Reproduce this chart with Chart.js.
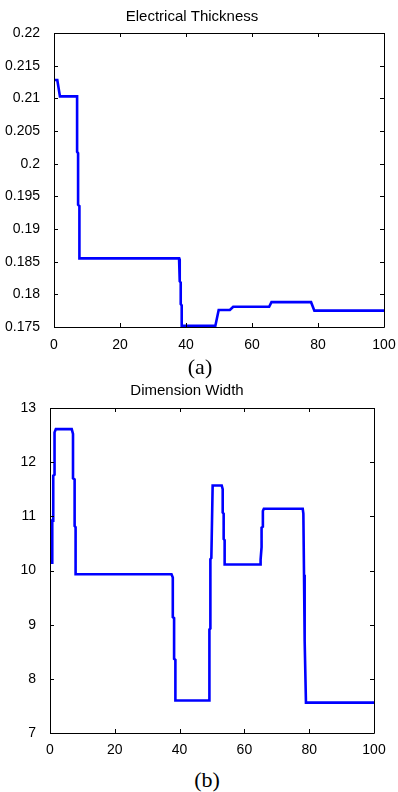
<!DOCTYPE html>
<html>
<head>
<meta charset="utf-8">
<script src="https://cdn.jsdelivr.net/npm/chart.js@4"></script>
<style>
  html, body { margin: 0; padding: 0; background: #fff; }
  body { width: 398px; height: 792px; position: relative; overflow: hidden; }
  canvas { position: absolute; left: 0; }
  #chartA { top: 0; }
  #chartB { top: 380px; }
  .caption {
    position: absolute;
    font-family: "Liberation Serif", "Times New Roman", serif;
    font-size: 22px;
    line-height: 22px;
    transform: translate(-50%, -50%);
  }
</style>
</head>
<body>
<canvas id="chartA" width="398" height="360"></canvas>
<div class="caption" style="left:200px; top:367px;">(a)</div>
<canvas id="chartB" width="398" height="380"></canvas>
<div class="caption" style="left:207px; top:780px;">(b)</div>

<script>
// Optimisation history: electrical thickness (a) and dimension width (b)
const xTicks = [0, 20, 40, 60, 80, 100];

const thicknessTicks = [0.175, 0.18, 0.185, 0.19, 0.195, 0.2, 0.205, 0.21, 0.215, 0.22];
const thicknessX = [0, 1.0, 1.8, 7.0, 7.0, 7.3, 7.3, 7.7, 7.7, 37.9, 38.1, 38.1, 38.4, 38.4, 38.7, 38.7,
  48.9, 49.9, 53.3, 54.3, 65.2, 65.9, 77.9, 78.9, 100];
const thicknessY = [0.2128, 0.2128, 0.2103, 0.2103, 0.2018, 0.2016, 0.1937, 0.1935, 0.1855, 0.1855, 0.1852,
  0.1820, 0.1818, 0.1785, 0.1783, 0.1752, 0.1752, 0.1776, 0.1776, 0.1781, 0.1781, 0.1788, 0.1788, 0.1775, 0.1775];

const widthTicks = [7, 8, 9, 10, 11, 12, 13];
const widthX = [0.7, 0.7, 1.0, 1.0, 1.4, 1.4, 1.8, 6.7, 7.1, 7.1, 7.6, 7.6, 7.9, 7.9, 37.5, 37.9, 37.9, 38.3,
  38.3, 38.7, 38.7, 49.1, 49.2, 49.5, 49.5, 49.8, 50.2, 53.0, 53.3, 53.3, 53.6, 53.6, 53.9, 53.9, 64.9, 65.0,
  65.3, 65.3, 65.7, 65.7, 66.0, 78.0, 78.2, 78.4, 78.4, 78.7, 78.7, 79.0, 100];
const widthY = [10.12, 10.92, 10.92, 11.75, 11.77, 12.55, 12.61, 12.61, 12.52, 11.70, 11.68, 10.82, 10.80,
  9.93, 9.93, 9.87, 9.14, 9.12, 8.37, 8.35, 7.60, 7.60, 8.91, 8.93, 10.21, 10.23, 11.57, 11.57, 11.50, 11.07,
  11.05, 10.58, 10.56, 10.11, 10.11, 10.20, 10.43, 10.79, 10.81, 11.10, 11.14, 11.14, 11.05, 9.92, 9.90,
  8.73, 8.70, 7.56, 7.56];

Chart.defaults.color = '#000';
Chart.defaults.font.family = '"Liberation Sans", Arial, sans-serif';

// MATLAB-style box with ticks pointing into the plot on all four sides
const boxPlugin = {
  id: 'box',
  afterDatasetsDraw(chart) {
    const { ctx, chartArea: a, scales } = chart;
    const len = 4;
    ctx.save();
    ctx.strokeStyle = '#000';
    ctx.lineWidth = 1;
    ctx.beginPath();
    ctx.rect(Math.round(a.left) + 0.5, Math.round(a.top) + 0.5,
      Math.round(a.right - a.left), Math.round(a.bottom - a.top));
    scales.x.ticks.forEach(t => {
      const px = Math.round(scales.x.getPixelForValue(t.value)) + 0.5;
      ctx.moveTo(px, a.bottom); ctx.lineTo(px, a.bottom - len);
      ctx.moveTo(px, a.top); ctx.lineTo(px, a.top + len);
    });
    scales.y.ticks.forEach(t => {
      const py = Math.round(scales.y.getPixelForValue(t.value)) + 0.5;
      ctx.moveTo(a.left, py); ctx.lineTo(a.left + len, py);
      ctx.moveTo(a.right, py); ctx.lineTo(a.right - len, py);
    });
    ctx.stroke();
    ctx.restore();
  }
};

function makeChart(id, title, xs, ys, yTicks, box) {
  const points = xs.map((x, i) => ({ x: x, y: ys[i] }));
  return new Chart(document.getElementById(id), {
    type: 'line',
    data: {
      datasets: [{
        data: points,
        borderColor: '#0000ff',
        borderWidth: 2.6,
        pointRadius: 0,
        tension: 0,
        fill: false
      }]
    },
    options: {
      responsive: false,
      animation: false,
      layout: { padding: { left: 0, right: box.right, top: 0, bottom: 0 } },
      plugins: {
        legend: { display: false },
        tooltip: { enabled: false },
        title: {
          display: true,
          text: title,
          color: '#000',
          font: { size: 15, weight: 'normal', lineHeight: 1.2 },
          padding: box.titlePad
        }
      },
      scales: {
        x: {
          type: 'linear',
          min: 0, max: 100,
          grid: { display: false },
          border: { display: false },
          afterBuildTicks: s => { s.ticks = xTicks.map(v => ({ value: v })); },
          afterFit: s => { s.height = box.xHeight; s.paddingLeft = 0; s.paddingRight = 0; },
          ticks: { font: { size: 14 }, padding: box.xPad, maxRotation: 0, callback: v => String(v) }
        },
        y: {
          type: 'linear',
          min: yTicks[0], max: yTicks[yTicks.length - 1],
          grid: { display: false },
          border: { display: false },
          afterBuildTicks: s => { s.ticks = yTicks.map(v => ({ value: v })); },
          afterFit: s => { s.width = box.yWidth; s.paddingTop = 0; s.paddingBottom = 0; },
          ticks: { font: { size: 14 }, padding: 6, callback: v => String(v) }
        }
      }
    },
    plugins: [boxPlugin]
  });
}

makeChart('chartA', 'Electrical Thickness', thicknessX, thicknessY, thicknessTicks,
  { right: 14, yWidth: 54, xHeight: 33, xPad: 2, titlePad: { top: 8, bottom: 7 } });
makeChart('chartB', 'Dimension Width', widthX, widthY, widthTicks,
  { right: 24, yWidth: 50, xHeight: 27, xPad: 1, titlePad: { top: 2, bottom: 8 } });
</script>
</body>
</html>
